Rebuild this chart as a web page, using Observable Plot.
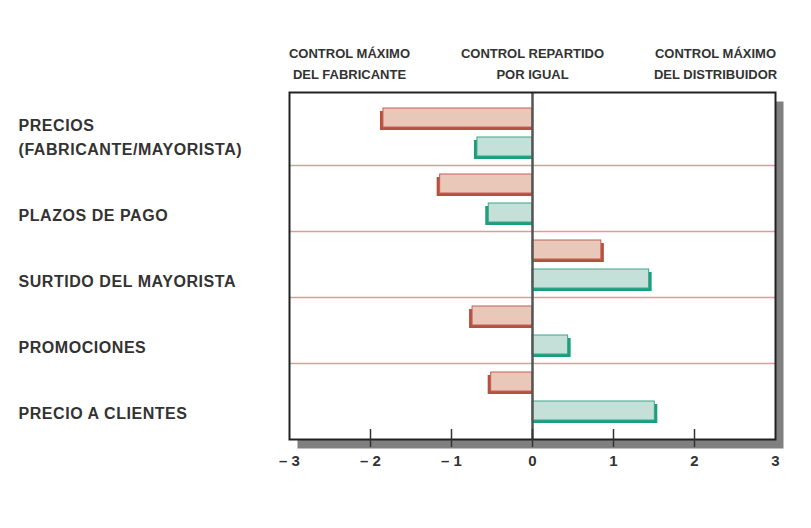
<!DOCTYPE html>
<html><head><meta charset="utf-8">
<script src="https://cdn.jsdelivr.net/npm/d3@7"></script>
<script src="https://cdn.jsdelivr.net/npm/@observablehq/plot@0.6"></script>
<style>body{margin:0;background:#fff}</style>
</head><body><div id="chart"></div>
<script>
// ---- data ----
const categories = ["PRECIOS\n(FABRICANTE/MAYORISTA)", "PLAZOS DE PAGO", "SURTIDO DEL MAYORISTA", "PROMOCIONES", "PRECIO A CLIENTES"];
const serieRoja  = [-1.84, -1.14, 0.85, -0.74, -0.51];
const serieVerde = [-0.68, -0.54, 1.44, 0.44, 1.51];
const xTicks = [-3, -2, -1, 0, 1, 2, 3];
const xTickLabels = ["– 3", "– 2", "– 1", "0", "1", "2", "3"];
const headers = ["CONTROL MÁXIMO\nDEL FABRICANTE", "CONTROL REPARTIDO\nPOR IGUAL", "CONTROL MÁXIMO\nDEL DISTRIBUIDOR"];
const headerAnchors = [-3, 0, 3];

const rojo = categories.map((c, i) => ({cat: c, v: serieRoja[i]}));
const verde = categories.map((c, i) => ({cat: c, v: serieVerde[i]}));
const headerData = headers.map((t, i) => ({t, x: headerAnchors[i]}));

const font = "'Liberation Sans', Arial, sans-serif";
const ink = "#333";

function seriesBars(data, fill, stroke, shadow, inset) {
  return [
    Plot.barX(data, {filter: d => d.v < 0, x1: 0, x2: "v", y: "cat", fill: shadow, insetLeft: -3, dy: 3, ...inset}),
    Plot.barX(data, {filter: d => d.v >= 0, x1: 0, x2: "v", y: "cat", fill: shadow, insetRight: -3, dy: 3, ...inset}),
    Plot.barX(data, {x1: 0, x2: "v", y: "cat", fill, stroke, strokeWidth: 1, ...inset})
  ];
}

const headerMark = (i, dx) => Plot.text(headerData.filter((d, j) => j === i), {
  x: "x", text: "t", frameAnchor: "top", dx, dy: -14, lineAnchor: "bottom",
  lineHeight: 1.57, fontSize: 13, fontWeight: "bold", fill: ink, textAnchor: "middle"
});

const chart = Plot.plot({
  width: 811, height: 528,
  marginLeft: 289, marginRight: 36, marginTop: 92, marginBottom: 89,
  style: {fontFamily: font, background: "#fff", overflow: "visible"},
  x: {domain: [-3, 3], axis: null},
  y: {type: "band", domain: categories, padding: 0, insetTop: 7, insetBottom: 10, axis: null},
  marks: [
    Plot.frame({fill: "#808080", dx: 8, dy: 9}),
    Plot.frame({fill: "#fff"}),
    Plot.ruleY(categories.slice(1), {stroke: "#e09a9a", strokeWidth: 1.5, dy: -33}),
    ...seriesBars(rojo, "#e9c8b9", "#c65e58", "#b5513f", {insetTop: 9, insetBottom: 38}),
    ...seriesBars(verde, "#c5e0d9", "#3aa58a", "#1a9e7e", {insetTop: 38, insetBottom: 9}),
    Plot.ruleX([0], {stroke: "#555", strokeWidth: 2.5}),
    Plot.frame({stroke: "#222", strokeWidth: 2}),
    Plot.ruleX(xTicks.slice(1, -1), {stroke: ink, strokeWidth: 1.5, insetTop: 337, insetBottom: -8}),
    Plot.axisX({ticks: xTicks, tickFormat: (d) => xTickLabels[xTicks.indexOf(d)], tickSize: 0, tickPadding: 16,
      fontSize: 15, fontWeight: "bold", fill: ink}),
    Plot.text(categories, {y: d => d, text: d => d, frameAnchor: "left", dx: -271, dy: 22, textAnchor: "start",
      lineAnchor: "bottom", lineHeight: 1.5, fontSize: 16, fontWeight: "bold", fill: ink, ariaLabel: () => "categorias"}),
    headerMark(0, 60),
    headerMark(1, 0),
    headerMark(2, -60)
  ]
});
d3.select(chart).selectAll("text")
  .filter(function () { return categories.some(c => c.replace("\n", "") === this.textContent); })
  .style("letter-spacing", "0.55px");
document.getElementById("chart").appendChild(chart);
</script>
</body></html>
